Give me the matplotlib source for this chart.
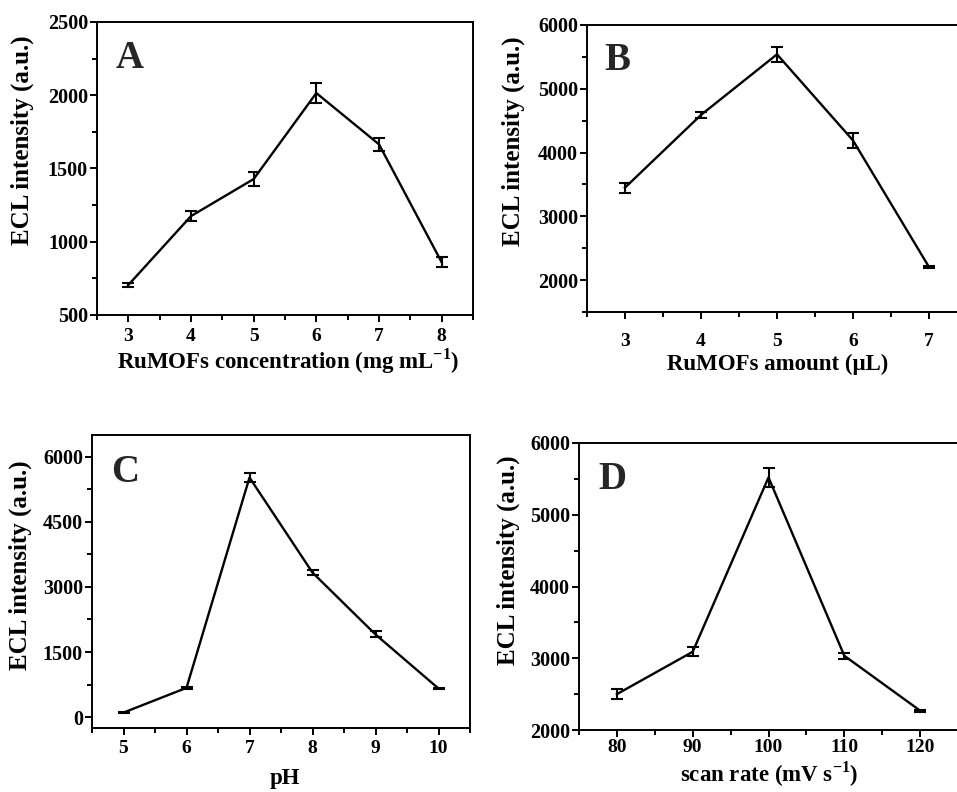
import matplotlib
matplotlib.use("Agg")
import matplotlib.pyplot as plt
from matplotlib.ticker import MultipleLocator

plt.rcParams['font.family'] = ['Liberation Serif', 'DejaVu Serif']
plt.rcParams['font.weight'] = 'bold'
plt.rcParams['mathtext.fontset'] = 'custom'
plt.rcParams['mathtext.rm'] = 'Liberation Serif:bold'
plt.rcParams['mathtext.bf'] = 'Liberation Serif:bold'

# Panel A
a_x = [3, 4, 5, 6, 7, 8]
a_y = [705, 1175, 1428, 2015, 1665, 860]
a_err = [14, 34, 50, 68, 45, 33]
# Panel B
b_x = [3, 4, 5, 6, 7]
b_y = [3450, 4590, 5540, 4190, 2205]
b_err = [78, 52, 115, 123, 15]
# Panel C
c_x = [5, 6, 7, 8, 9, 10]
c_y = [105, 675, 5520, 3330, 1905, 660]
c_err = [15, 20, 100, 60, 70, 15]
# Panel D
d_x = [80, 90, 100, 110, 120]
d_y = [2500, 3090, 5520, 3035, 2270]
d_err = [70, 60, 135, 40, 15]

W, H = 957, 792
fig = plt.figure(figsize=(W / 100, H / 100), dpi=100)

def fx(px):
    return px / W

def fy(py):
    return 1 - py / H

def px_axes(l, t, r, b):
    return fig.add_axes([l / W, 1 - b / H, (r - l) / W, (b - t) / H])

def style(ax, xlim, ylim, xmaj, xmin, ymaj, ymin, xlabel, letter, lpos,
          ylab_pos, xlab_pos, xpad):
    ax.set_xlim(*xlim)
    ax.set_ylim(*ylim)
    ax.xaxis.set_major_locator(MultipleLocator(xmaj))
    ax.xaxis.set_minor_locator(MultipleLocator(xmin))
    ax.yaxis.set_major_locator(MultipleLocator(ymaj))
    ax.yaxis.set_minor_locator(MultipleLocator(ymin))
    ax.tick_params(which='both', direction='out', top=False, right=False, width=1.4)
    ax.tick_params(which='major', length=5)
    ax.tick_params(which='minor', length=3.5)
    ax.tick_params(axis='x', which='major', labelsize=14, pad=xpad)
    ax.tick_params(axis='y', which='major', labelsize=14.5, pad=1.5)
    for s in ax.spines.values():
        s.set_linewidth(1.4)
    for lab in ax.get_xticklabels() + ax.get_yticklabels():
        lab.set_fontweight('bold')
    ax.set_ylabel('ECL intensity (a.u.)', fontsize=18, fontweight='bold')
    ax.yaxis.set_label_coords(fx(ylab_pos[0]), fy(ylab_pos[1]), transform=fig.transFigure)
    ax.yaxis.label.set_va('center')
    ax.set_xlabel(xlabel, fontsize=16.5, fontweight='bold')
    ax.xaxis.set_label_coords(fx(xlab_pos[0]), fy(xlab_pos[1]), transform=fig.transFigure)
    ax.xaxis.label.set_va('baseline')
    ax.text(fx(lpos[0]), fy(lpos[1]), letter, transform=fig.transFigure, fontsize=28,
            fontweight='bold', ha='left', va='baseline', color='#262626')

def plot(ax, x, y, e):
    ax.errorbar(x, y, yerr=e, color='black', lw=1.7, elinewidth=1.5, capsize=4.5,
                capthick=1.5)

axA = px_axes(97, 22, 473, 315)
plot(axA, a_x, a_y, a_err)
style(axA, (2.5, 8.5), (500, 2500), 1, 0.5, 500, 250,
      r'RuMOFs concentration (mg mL$^{\mathbf{-1}}$)', 'A', (116, 68),
      (22, 140), (288, 368), 4.5)

axB = px_axes(587, 25, 967, 312)
plot(axB, b_x, b_y, b_err)
style(axB, (2.5, 7.5), (1500, 6000), 1, 0.5, 1000, 500,
      'RuMOFs amount (μL)', 'B', (604, 70),
      (513, 141), (778, 370), 10)

axC = px_axes(92, 435, 470, 728)
plot(axC, c_x, c_y, c_err)
style(axC, (4.5, 10.5), (-250, 6500), 1, 0.5, 1500, 750,
      'pH', 'C', (111, 482),
      (20, 565), (285, 784), 3.6)

axD = px_axes(579, 443, 958, 730)
plot(axD, d_x, d_y, d_err)
style(axD, (75, 125), (2000, 6000), 10, 5, 1000, 500,
      r'scan rate (mV s$^{\mathbf{-1}}$)', 'D', (598, 489),
      (508, 560), (769, 782), 1.5)

fig.savefig('out.png', dpi=100)
